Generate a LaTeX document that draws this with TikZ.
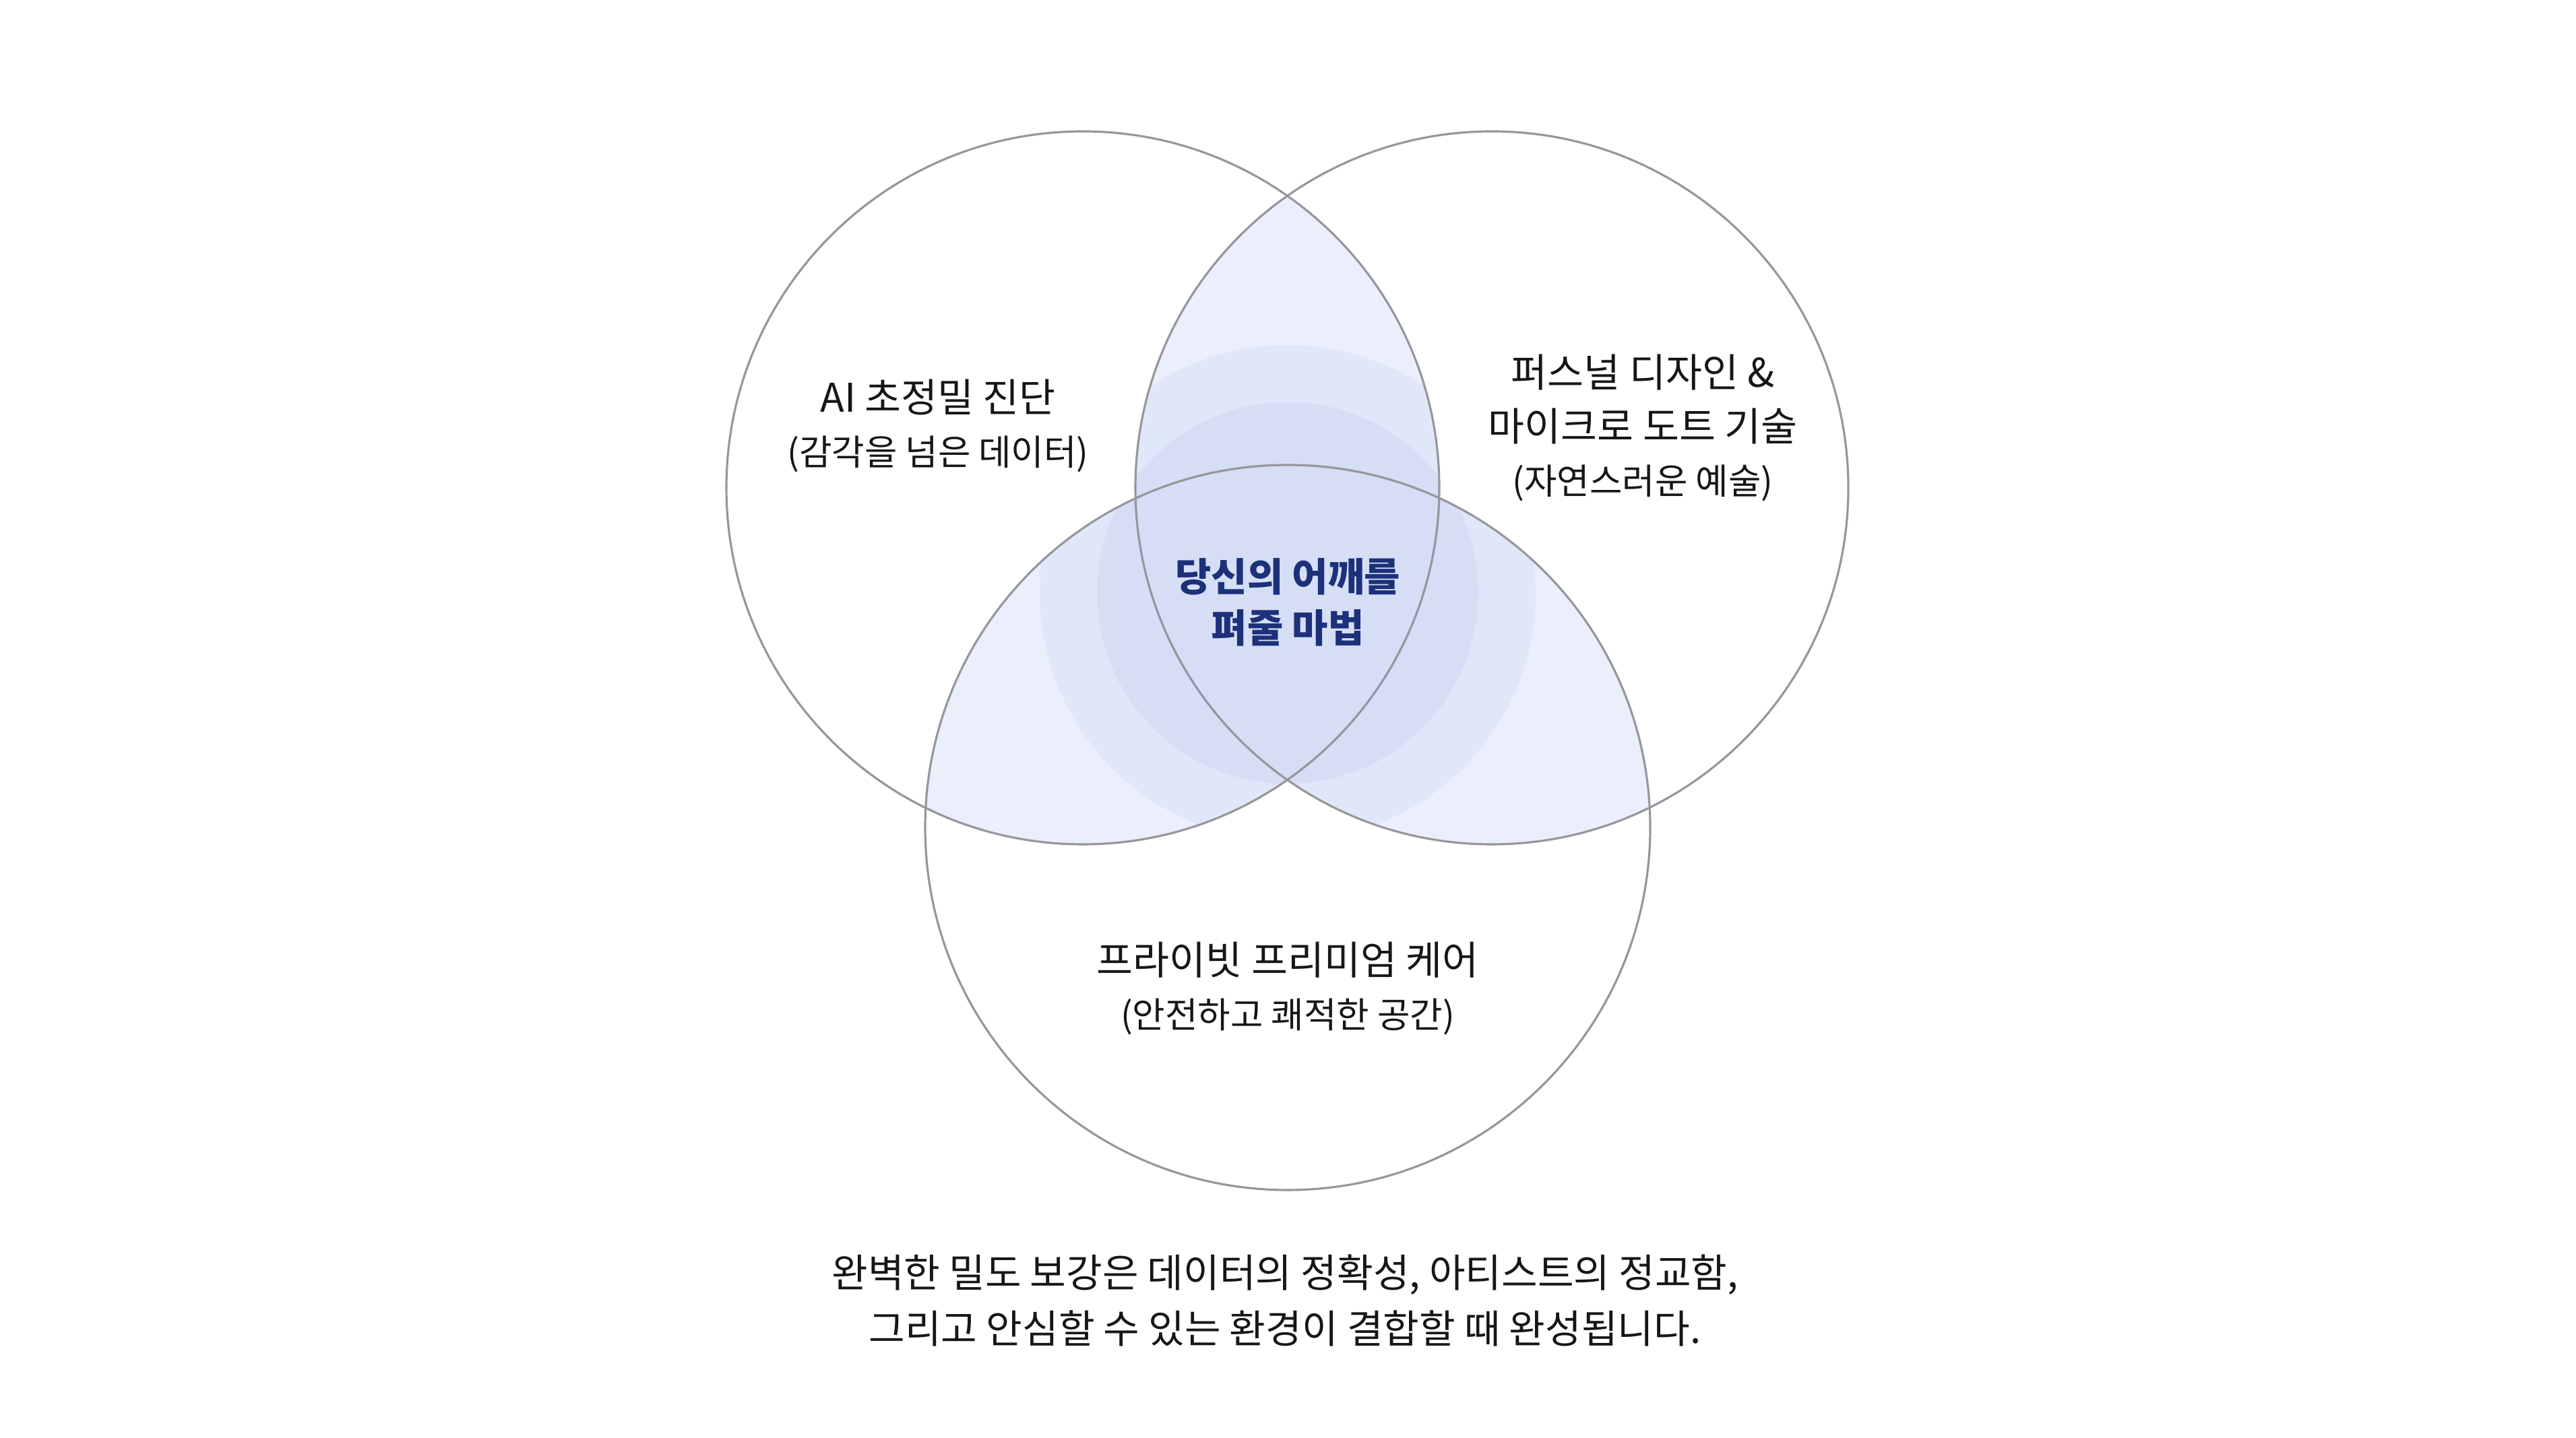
\documentclass[tikz,border=0pt]{standalone}
\usepackage{fontspec}
\setmainfont{Noto Sans CJK KR}
\usepackage{tikz}
\usetikzlibrary{positioning}
\definecolor{ringgray}{RGB}{150,150,156}
\definecolor{lensblue}{RGB}{234,239,251}
\definecolor{glowmid}{RGB}{224,231,248}
\definecolor{glowcore}{RGB}{213,222,245}
\definecolor{navy}{RGB}{29,48,122}
\definecolor{ink}{RGB}{22,22,22}

\begin{document}
\begin{tikzpicture}[
  ring/.style={draw=ringgray, line width=0.9pt},
  setlabel/.style={align=center, text=ink, font=\fontsize{16.7}{22.5}\selectfont},
]
  \useasboundingbox (0,0) rectangle (38.23,21.34);
  \coordinate (cA) at (16.07,14.10);
  \coordinate (cB) at (22.14,14.10);
  \coordinate (cC) at (19.11,9.06);
  \coordinate (core) at (19.11,12.54);
  % overlaps of each pair, with the glow at the centre
  \foreach \first/\second/\rfirst/\rsecond in {cA/cB/5.29/5.29, cA/cC/5.29/5.38, cB/cC/5.29/5.38} {
    \begin{scope}
      \clip (\first) circle (\rfirst);
      \clip (\second) circle (\rsecond);
      \fill[lensblue] (\first) circle (\rfirst);
      \fill[glowmid] (core) circle (3.68);
      \fill[glowcore] (core) circle (2.83);
    \end{scope}
  }
  \draw[ring] (cA) circle (5.29);
  \draw[ring] (cB) circle (5.29);
  \draw[ring] (cC) circle (5.38);
  % labels
  \node[setlabel] (ai) at (13.92,15.02) {AI 초정밀 진단\\\fontsize{15}{22.5}\selectfont(감각을 넘은 데이터)};
  \node[setlabel] (design) at (24.38,14.99) {퍼스널 디자인 \&\\마이크로 도트 기술\\\fontsize{15}{22.5}\selectfont(자연스러운 예술)};
  \node[setlabel] (care) at (19.11,6.67) {프라이빗 프리미엄 케어\\\fontsize{15}{22.5}\selectfont(안전하고 쾌적한 공간)};
  \node[setlabel, text=navy, font=\fontsize{16.5}{21.5}\selectfont\bfseries] (magic) at (19.11,12.40) {당신의 어깨를\\펴줄 마법};
  \node[setlabel, font=\fontsize{16.6}{23.6}\selectfont] (caption) at (19.07,2.04) {완벽한 밀도 보강은 데이터의 정확성, 아티스트의 정교함,\\그리고 안심할 수 있는 환경이 결합할 때 완성됩니다.};
\end{tikzpicture}
\end{document}
